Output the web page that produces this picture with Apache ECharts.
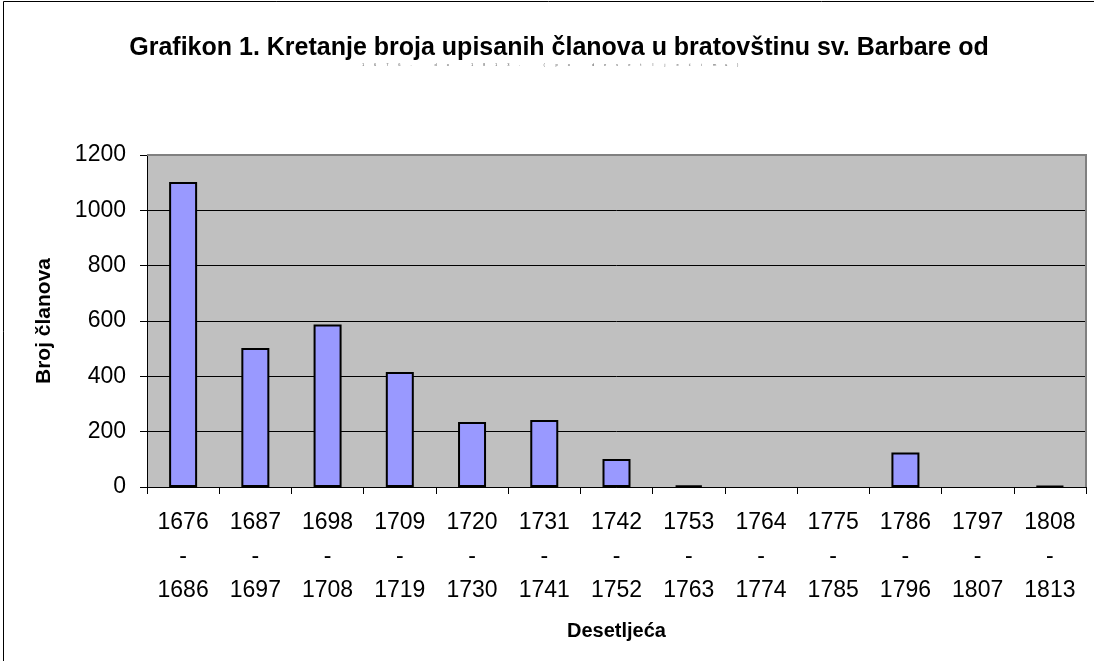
<!DOCTYPE html>
<html>
<head>
<meta charset="utf-8">
<script src="https://cdn.jsdelivr.net/npm/echarts@6/dist/echarts.min.js"></script>
<style>
  html, body { margin: 0; padding: 0; background: #ffffff; overflow: hidden; }
  #chart { width: 1094px; height: 661px; }
</style>
</head>
<body>
<div id="chart"></div>
<script>
// Decades (start and end year of each period)
const startYears = ['1676', '1687', '1698', '1709', '1720', '1731', '1742', '1753', '1764', '1775', '1786', '1797', '1808'];
const endYears   = ['1686', '1697', '1708', '1719', '1730', '1741', '1752', '1763', '1774', '1785', '1796', '1807', '1813'];
// Number of enrolled members per decade
const members = [1102, 502, 587, 416, 235, 242, 101, 6, 0, 0, 125, 0, 3];

const titleText = 'Grafikon 1. Kretanje broja upisanih članova u bratovštinu sv. Barbare od';
const subtitleText = '1676. do 1813. (po desetljećima)';

const categories = startYears.map((s, i) => s + '\n-\n' + endYears[i]);

// Empty decades get no outline, so nothing shows on the axis
const barData = members.map(v => v === 0
  ? { value: v, itemStyle: { borderWidth: 0 } }
  : { value: v });

const chart = echarts.init(document.getElementById('chart'));

// Subtitle drawn as very small, widely spaced characters
const subChars = subtitleText.split('').map((ch, i) => ({
  type: 'text',
  left: 362 + i * 12.1,
  top: 63,
  silent: true,
  style: { text: ch, fontSize: 4, fill: '#555', fontFamily: 'Liberation Sans, Arial, sans-serif' }
}));

chart.setOption({
  animation: false,
  backgroundColor: '#ffffff',
  textStyle: { fontFamily: 'Liberation Sans, Arial, sans-serif' },
  title: {
    text: titleText,
    left: 554,
    textAlign: 'center',
    top: 31,
    textStyle: { fontSize: 25, fontWeight: 'bold', color: '#000' }
  },
  graphic: [
    {
      type: 'polyline',
      shape: { points: [[3.5, 700], [3.5, 1.5], [1094, 1.5]] },
      style: { fill: 'none', stroke: '#000', lineWidth: 1 },
      silent: true
    },
    {
      type: 'polyline',
      shape: { points: [[147, 155], [1086, 155], [1086, 487]] },
      style: { fill: 'none', stroke: '#808080', lineWidth: 2 },
      silent: true,
      z: 10
    }
  ].concat(subChars),
  grid: {
    left: 147, top: 155, width: 939, height: 332,
    show: true, backgroundColor: '#c0c0c0', borderWidth: 0
  },
  xAxis: {
    type: 'category',
    data: categories,
    name: 'Desetljeća',
    nameLocation: 'middle',
    nameGap: 134,
    nameTextStyle: { fontSize: 20, fontWeight: 'bold', color: '#000' },
    axisLine: { lineStyle: { color: '#000', width: 1 } },
    axisTick: { show: true, alignWithLabel: false, length: 7, lineStyle: { color: '#000' } },
    axisLabel: { fontSize: 23, color: '#000', lineHeight: 34, margin: 19, interval: 0 }
  },
  yAxis: {
    type: 'value',
    min: 0, max: 1200, interval: 200,
    name: 'Broj članova',
    nameLocation: 'middle',
    nameGap: 92,
    nameRotate: 90,
    nameTextStyle: { fontSize: 21, fontWeight: 'bold', color: '#000' },
    axisLine: { show: true, lineStyle: { color: '#000', width: 1 } },
    axisTick: { show: true, length: 7, lineStyle: { color: '#000' } },
    axisLabel: { fontSize: 23, color: '#000', margin: 21, formatter: v => String(v) },
    splitLine: { show: true, lineStyle: { color: '#000', width: 1 } }
  },
  series: [{
    type: 'bar',
    data: barData,
    barWidth: 28,
    itemStyle: { color: '#9999ff', borderColor: '#000', borderWidth: 2 }
  }]
});
</script>
</body>
</html>
